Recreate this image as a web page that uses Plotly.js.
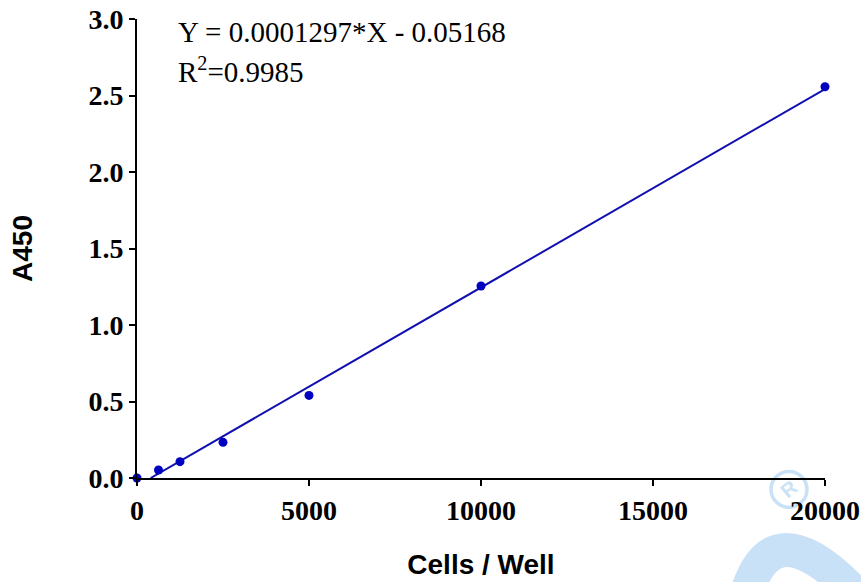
<!DOCTYPE html>
<html><head><meta charset="utf-8">
<script src="https://cdn.plot.ly/plotly-3.0.1.min.js"></script>
<style>html,body{margin:0;padding:0;background:#fff}#chart{width:861px;height:582px}</style>
</head><body><div id="chart"></div>
<script>
const cells = [0, 625, 1250, 2500, 5000, 10000, 20000];
const a450 = [0, 0.052, 0.107, 0.233, 0.54, 1.255, 2.557];
const slope = 0.0001297;
const intercept = -0.05168;
const fitX = [-intercept / slope, 20000];
const fitY = fitX.map(x => slope * x + intercept);
const xTicks = [0, 5000, 10000, 15000, 20000];
const yTicks = [0, 0.5, 1.0, 1.5, 2.0, 2.5, 3.0];
const yTickText = ['0.0', '0.5', '1.0', '1.5', '2.0', '2.5', '3.0'];

const serif = 'Liberation Serif, Times New Roman, serif';
const sans = 'Liberation Sans, Arial, sans-serif';
const tickFont = {family: serif, size: 28, color: '#000', weight: 'bold'};
const wm = 'rgba(195,222,246,0.9)';
const data = [
  {x: fitX, y: fitY, mode: 'lines', line: {color: '#1010b0', width: 2}, hoverinfo: 'skip', cliponaxis: false},
  {x: cells, y: a450, mode: 'markers', marker: {color: '#0000c0', size: 9}, cliponaxis: false}
];
const layout = {
  width: 861, height: 582,
  margin: {l: 137, r: 36, t: 19, b: 104},
  showlegend: false,
  paper_bgcolor: '#fff', plot_bgcolor: 'rgba(0,0,0,0)',
  xaxis: {
    range: [0, 20000], tickvals: xTicks, ticktext: xTicks.map(String),
    showgrid: false, zeroline: false, showline: true, linecolor: '#000', linewidth: 2,
    ticks: 'outside', ticklen: 6, tickwidth: 2, tickcolor: '#000',
    tickfont: tickFont,
    title: {text: 'Cells / Well', font: {family: sans, size: 28, color: '#000', weight: 'bold'}, standoff: 30}
  },
  yaxis: {
    range: [0, 3.0], tickvals: yTicks, ticktext: yTickText,
    showgrid: false, zeroline: false, showline: true, linecolor: '#000', linewidth: 2,
    ticks: 'outside', ticklen: 6, tickwidth: 2, tickcolor: '#000',
    tickfont: tickFont,
    title: {text: 'A450', font: {family: sans, size: 28, color: '#000', weight: 'bold'}, standoff: 48}
  },
  shapes: [
    {type: 'path', xref: 'paper', yref: 'paper', layer: 'below',
     path: 'M 0.8837 -0.2658 Q 0.9215 -0.0479 1.0523 -0.2658',
     line: {color: wm, width: 34}},
    {type: 'circle', xref: 'paper', yref: 'paper', layer: 'below',
     x0: 0.9215, x1: 0.9738, y0: -0.064, y1: 0.0144,
     line: {color: wm, width: 3.5}}
  ],
  annotations: [
    {xref: 'paper', yref: 'paper', x: 0.057, y: 0.972, xanchor: 'left', yanchor: 'middle', showarrow: false, align: 'left',
     text: 'Y = 0.0001297*X - 0.05168', font: {family: serif, size: 29, color: '#000'}},
    {xref: 'paper', yref: 'paper', x: 0.057, y: 0.889, xanchor: 'left', yanchor: 'middle', showarrow: false, align: 'left',
     text: 'R<sup>2</sup>=0.9985', font: {family: serif, size: 29, color: '#000'}},
    {xref: 'paper', yref: 'paper', x: 0.9477, y: -0.025, xanchor: 'center', yanchor: 'middle', showarrow: false,
     text: 'R', textangle: -40, font: {family: sans, size: 20, color: wm, weight: 'bold'}}
  ]
};
Plotly.newPlot('chart', data, layout, {displayModeBar: false, staticPlot: true});
</script></body></html>
